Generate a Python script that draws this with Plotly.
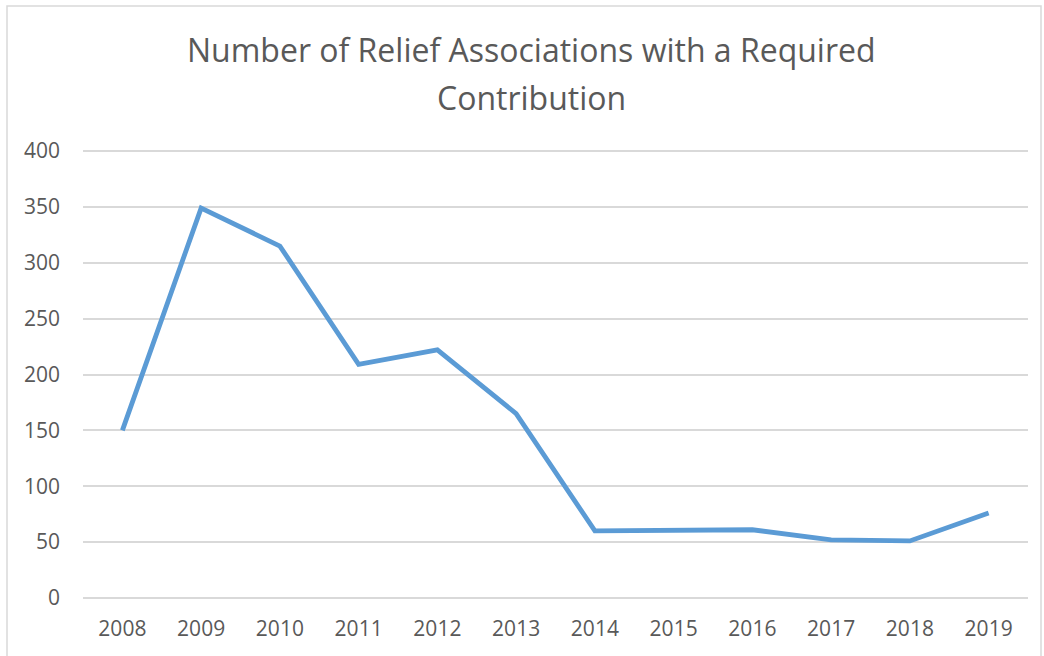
import plotly.graph_objects as go

years = ["2008", "2009", "2010", "2011", "2012", "2013", "2014", "2015", "2016", "2017", "2018", "2019"]
counts = [150, 349, 315, 209, 222, 165, 60, 61, 61, 52, 51, 76]
y_ticks = [0, 50, 100, 150, 200, 250, 300, 350, 400]
title_lines = ["Number of Relief Associations with a Required", "Contribution"]

W, H = 1044, 656
L, R, T, B = 83, 16, 150, 57
pw, ph = W - L - R, H - T - B

fig = go.Figure()
fig.add_trace(go.Scatter(
    x=years, y=counts, mode="lines",
    line=dict(color="#5B9BD5", width=4.8),
    hoverinfo="x+y",
))

font_family = "Open Sans, Lato, sans-serif"
txt = "#595959"

fig.update_layout(
    width=W, height=H,
    margin=dict(l=L, r=R, t=T, b=B),
    paper_bgcolor="white", plot_bgcolor="white",
    showlegend=False,
    font=dict(family=font_family, color=txt, size=21),
    xaxis=dict(
        type="category", range=[-0.5, 11.5],
        showgrid=False, zeroline=False, showline=False, ticks="",
        tickfont=dict(size=21, color=txt), ticklabelstandoff=15,
        fixedrange=True,
    ),
    yaxis=dict(
        range=[-1, 401], tickvals=y_ticks,
        showgrid=True, gridcolor="#D9D9D9", gridwidth=1.5,
        zeroline=False, showline=False, ticks="",
        tickfont=dict(size=21, color=txt), ticklabelstandoff=22,
        fixedrange=True,
    ),
)

# chart border
fig.add_shape(type="rect", xref="paper", yref="paper",
              x0=(7 - L) / pw, x1=(1041 - L) / pw,
              y0=-0.3, y1=1 + (T - 6) / ph,
              line=dict(color="#D9D9D9", width=1.5), fillcolor="rgba(0,0,0,0)", layer="below")

cx = (531 - L) / pw
for i, (line, ypix) in enumerate(zip(title_lines, [50, 97])):
    fig.add_annotation(
        text=line, xref="paper", yref="paper",
        x=cx, y=1 + (T - ypix) / ph, xanchor="center", yanchor="middle",
        showarrow=False, font=dict(size=32, color=txt, family=font_family),
    )

fig.write_html("out.html")
